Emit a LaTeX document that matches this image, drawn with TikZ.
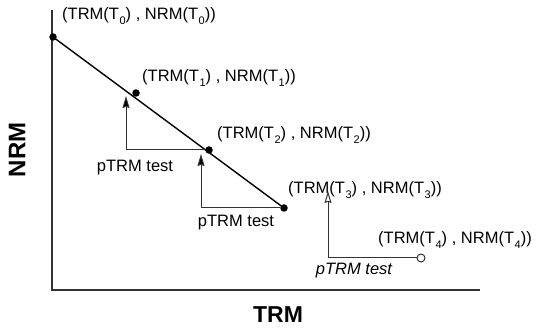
\documentclass[tikz,border=0pt]{standalone}
\usepackage{fontspec}
\setmainfont{Liberation Sans}
\usetikzlibrary{arrows.meta}

\newcommand{\lowsub}[1]{\kern0.6pt\raisebox{-0.55ex}{\fontsize{11}{12}\selectfont #1}}
\newcommand{\pair}[1]{(TRM(T\lowsub{#1}) , NRM(T\lowsub{#1}))}

\begin{document}
\begin{tikzpicture}[x=1pt,y=-1pt,
	dot/.style={circle,fill=black,inner sep=0pt,minimum size=7.5pt},
	opendot/.style={circle,draw=black!85,fill=white,inner sep=0pt,minimum size=8pt,line width=0.9pt},
	lbl/.style={font=\fontsize{16.5}{18}\selectfont,inner sep=0pt,anchor=west},
	axis/.style={draw=black!80,line width=1.1pt},
	test/.style={draw=black!80,line width=1pt,-{Stealth[inset=1.2pt,length=12pt,width=7pt,fill=black]}},
	opentest/.style={draw=black!80,line width=1pt,-{Stealth[open,inset=1.2pt,length=12pt,width=7pt]}}]
	\useasboundingbox (0,0) rectangle (544,331);
	% axes
	\coordinate (top) at (52,10);
	\coordinate (origin) at (52,290);
	\coordinate (right) at (480,290);
	\draw[axis] (top) -- (origin) -- (right);
	\node[font=\fontsize{24}{26}\selectfont\bfseries,rotate=90] (nrm) at (17,150) {NRM};
	\node[font=\fontsize{23}{25}\selectfont\bfseries] (trm) at (278,315) {TRM};
	% measured points
	\node[dot] (t0) at (53,37) {};
	\node[dot] (t1) at (136,93) {};
	\node[dot] (t2) at (209,150) {};
	\node[dot] (t3) at (284,208) {};
	\node[opendot] (t4) at (421,258) {};
	\draw[line width=1.4pt] (t0.center) -- (t3.center);
	\node[lbl] (l0) at (62,16) {\pair{0}};
	\node[lbl] (l1) at (142,78) {\pair{1}};
	\node[lbl] (l2) at (217,135) {\pair{2}};
	\node[lbl] (l3) at (288,190) {\pair{3}};
	\node[lbl] (l4) at (378,240) {\pair{4}};
	% pTRM checks
	\coordinate (tip1) at (126,96);
	\coordinate (tip2) at (201,154);
	\coordinate (tip3) at (328,191);
	\draw[test] (t2) -| (tip1);
	\draw[test] (t3) -| (tip2);
	\draw[opentest] (t4) -| (tip3);
	\node[lbl,anchor=center] (p1) at (135,168) {pTRM test};
	\node[lbl,anchor=center] (p2) at (236,223) {pTRM test};
	\node[lbl,anchor=center,font=\fontsize{16.5}{18}\selectfont\itshape] (p3) at (354,271) {pTRM test};
\end{tikzpicture}
\end{document}
